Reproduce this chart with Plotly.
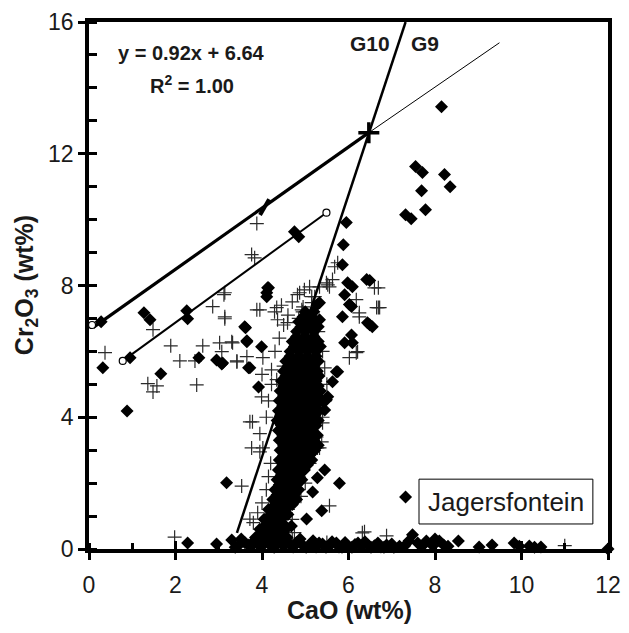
import plotly.graph_objects as go

# ---------------- data ----------------
# scattered filled-diamond analyses
dia_sc_x = [0.28, 1.27, 1.41, 2.26, 2.28, 0.32, 0.95, 1.66, 0.88, 2.54, 2.95, 3.07, 3.62, 3.65, 3.69,
            4.11, 4.13, 4.75, 4.85, 5.95, 5.88, 5.86, 6.42, 4.15, 4.11, 5.98, 6.09, 5.91, 6.02, 5.86,
            5.33, 5.28, 3.60, 6.44, 6.49, 8.15, 7.55, 7.71, 8.22, 8.35, 7.69, 7.78, 7.32, 7.45,
            6.49, 6.55, 6.07, 6.07, 5.91, 6.09, 5.72, 5.63, 5.52, 5.45, 5.45, 5.28, 5.79, 5.17,
            7.32, 5.38, 5.03, 4.68, 3.18, 3.65, 3.99, 3.09, 3.72, 3.92, 5.75, 5.49, 5.33]
dia_sc_y = [6.90, 7.17, 6.96, 7.23, 6.99, 5.50, 5.81, 5.32, 4.19, 5.81, 5.74, 5.62, 6.72, 6.32, 5.50,
            7.78, 7.93, 9.63, 9.48, 9.91, 9.24, 8.63, 8.18, 7.93, 7.66, 8.08, 7.96, 7.72, 7.42, 7.05,
            7.48, 7.42, 6.75, 6.87, 8.15, 13.43, 11.61, 11.43, 11.37, 11.00, 10.88, 10.30, 10.15, 10.03,
            6.81, 6.75, 6.50, 7.36, 6.26, 6.26, 5.38, 5.08, 4.62, 4.22, 2.40, 2.16, 2.00, 1.73,
            1.58, 1.16, 0.91, 0.70, 2.01, 6.29, 6.14, 5.65, 5.50, 4.92, 5.38, 4.53, 6.96]

# dense cluster of filled diamonds (CaO 4-5.5 wt%)
dia_cl_x = [5.00, 5.20,
            4.85, 5.05, 5.25,
            4.80, 5.00, 5.20,
            4.70, 4.90, 5.10, 5.30,
            4.65, 4.85, 5.05, 5.25,
            4.55, 4.75, 4.95, 5.15, 5.30,
            4.50, 4.70, 4.90, 5.10, 5.28,
            4.45, 4.65, 4.85, 5.05, 5.25,
            4.42, 4.60, 4.80, 5.00, 5.20, 5.35,
            4.40, 4.58, 4.78, 4.98, 5.18, 5.40,
            4.38, 4.55, 4.75, 4.95, 5.15, 5.32,
            4.35, 4.52, 4.72, 4.92, 5.12, 5.30,
            4.38, 4.55, 4.75, 4.95, 5.15,
            4.40, 4.60, 4.80, 5.00, 5.20,
            4.42, 4.62, 4.82, 5.02, 5.22,
            4.40, 4.60, 4.80, 5.00, 5.15,
            4.38, 4.58, 4.78, 4.98,
            4.35, 4.55, 4.75, 4.92,
            4.30, 4.50, 4.70, 4.85,
            4.25, 4.45, 4.65, 4.80,
            4.15, 4.35, 4.55,
            4.05, 4.25, 4.45,
            3.95, 4.15, 4.35, 4.55,
            3.85, 4.05, 4.25, 4.45,
            # interleaved rows
            4.95, 5.15,
            4.90, 5.10, 5.30,
            4.80, 5.00, 5.20,
            4.75, 4.95, 5.15, 5.35,
            4.65, 4.85, 5.05, 5.25,
            4.60, 4.80, 5.00, 5.20,
            4.55, 4.75, 4.95, 5.15, 5.32,
            4.50, 4.70, 4.90, 5.10, 5.30,
            4.50, 4.70, 4.90, 5.10, 5.28,
            4.48, 4.68, 4.88, 5.08, 5.25,
            4.45, 4.65, 4.85, 5.05, 5.22,
            4.45, 4.65, 4.85, 5.05, 5.25,
            4.50, 4.70, 4.90, 5.10, 5.28,
            4.50, 4.70, 4.90, 5.10, 5.30,
            4.50, 4.70, 4.90, 5.10,
            4.48, 4.68, 4.88, 5.05,
            4.45, 4.65, 4.85,
            4.40, 4.60, 4.80,
            4.35, 4.55, 4.75,
            4.30, 4.50, 4.70,
            4.20, 4.40, 4.60,
            4.10, 4.30, 4.50,
            4.00, 4.20, 4.40]
dia_cl_y = [7.20, 7.20,
            6.90, 6.90, 6.90,
            6.60, 6.60, 6.60,
            6.30, 6.30, 6.30, 6.30,
            6.00, 6.00, 6.00, 6.00,
            5.70, 5.70, 5.70, 5.70, 5.70,
            5.40, 5.40, 5.40, 5.40, 5.40,
            5.10, 5.10, 5.10, 5.10, 5.10,
            4.80, 4.80, 4.80, 4.80, 4.80, 4.80,
            4.50, 4.50, 4.50, 4.50, 4.50, 4.50,
            4.20, 4.20, 4.20, 4.20, 4.20, 4.20,
            3.90, 3.90, 3.90, 3.90, 3.90, 3.90,
            3.60, 3.60, 3.60, 3.60, 3.60,
            3.30, 3.30, 3.30, 3.30, 3.30,
            3.00, 3.00, 3.00, 3.00, 3.00,
            2.70, 2.70, 2.70, 2.70, 2.70,
            2.40, 2.40, 2.40, 2.40,
            2.10, 2.10, 2.10, 2.10,
            1.80, 1.80, 1.80, 1.80,
            1.50, 1.50, 1.50, 1.50,
            1.20, 1.20, 1.20,
            0.90, 0.90, 0.90,
            0.60, 0.60, 0.60, 0.60,
            0.35, 0.35, 0.35, 0.35,
            7.05, 7.05,
            6.75, 6.75, 6.75,
            6.45, 6.45, 6.45,
            6.15, 6.15, 6.15, 6.15,
            5.85, 5.85, 5.85, 5.85,
            5.55, 5.55, 5.55, 5.55,
            5.25, 5.25, 5.25, 5.25, 5.25,
            4.95, 4.95, 4.95, 4.95, 4.95,
            4.65, 4.65, 4.65, 4.65, 4.65,
            4.35, 4.35, 4.35, 4.35, 4.35,
            4.05, 4.05, 4.05, 4.05, 4.05,
            3.75, 3.75, 3.75, 3.75, 3.75,
            3.45, 3.45, 3.45, 3.45, 3.45,
            3.15, 3.15, 3.15, 3.15, 3.15,
            2.85, 2.85, 2.85, 2.85,
            2.55, 2.55, 2.55, 2.55,
            2.25, 2.25, 2.25,
            1.95, 1.95, 1.95,
            1.65, 1.65, 1.65,
            1.35, 1.35, 1.35,
            1.05, 1.05, 1.05,
            0.75, 0.75, 0.75,
            0.50, 0.50, 0.50]

# Cr-poor diamonds lying along the CaO axis
dia_bl_x = [2.28, 2.95, 3.30, 3.45, 3.60, 3.75, 3.90, 4.05, 4.20, 4.35, 4.50, 4.65, 4.80, 4.95,
            5.10, 5.25, 5.40, 5.55, 5.72, 5.85, 5.98, 6.15, 6.30, 6.45, 6.60, 6.75, 6.88, 7.05,
            7.18, 7.48, 7.60, 7.80, 7.95, 8.10, 8.30, 8.54, 9.02, 9.32, 9.83, 9.95, 10.18, 10.30,
            10.45, 12.00,
            3.38, 3.52, 3.68, 3.82, 3.98, 4.12, 4.28, 4.42, 4.58, 4.72, 4.88, 5.02, 5.18, 5.32,
            5.48, 5.62, 5.78, 5.92, 6.08, 6.22, 6.38, 6.52, 6.68, 6.82, 7.00, 7.30, 7.40, 7.70,
            8.00, 8.20]
dia_bl_y = [0.18, 0.15, 0.27, 0.10, 0.20, 0.08, 0.15, 0.22, 0.10, 0.18, 0.08, 0.14, 0.20, 0.10,
            0.12, 0.06, 0.15, 0.08, 0.18, 0.05, 0.10, 0.14, 0.08, 0.12, 0.10, 0.06, 0.12, 0.05,
            0.08, 0.43, 0.18, 0.24, 0.10, 0.24, 0.08, 0.24, 0.06, 0.12, 0.18, 0.08, 0.09, 0.05,
            0.06, 0.00,
            0.05, 0.30, 0.12, 0.25, 0.06, 0.32, 0.05, 0.28, 0.35, 0.06, 0.30, 0.05, 0.25, 0.18,
            0.05, 0.22, 0.06, 0.20, 0.05, 0.18, 0.22, 0.05, 0.18, 0.05, 0.15, 0.10, 0.25, 0.08,
            0.30, 0.12]

# plus-sign analyses
crs_x = [0.37, 3.12, 2.86, 3.14, 1.48, 1.89, 2.63, 3.02, 3.30, 3.07, 2.10, 2.45, 3.42, 3.65,
         2.49, 1.36, 1.57, 1.48, 3.72, 3.88, 3.76, 3.83, 3.14, 3.88, 4.29, 4.87, 5.10, 5.15, 4.92,
         3.14, 3.95, 4.34, 4.36, 4.59, 4.82, 4.98, 4.94, 5.33, 5.49, 5.63, 5.56, 5.75, 5.68,
         6.18, 6.25, 6.69, 6.69, 6.72, 6.25, 6.18, 6.02, 5.52, 5.22, 6.60, 6.65, 5.15,
         3.32, 3.42, 4.02, 4.22, 4.34, 3.99, 3.78, 3.76, 4.02, 3.95, 4.10, 4.15, 4.22, 4.00,
         4.30, 4.40, 4.50, 4.60, 4.45, 4.70, 4.85, 5.30, 5.40, 5.45, 5.50, 5.45, 5.40, 5.38,
         5.33, 5.26, 5.40, 4.20, 4.15, 4.10, 4.00, 3.90, 3.80, 3.72, 3.53, 4.60, 4.70, 4.75,
         4.90, 5.00, 5.10, 5.56, 6.32, 3.95, 5.28, 6.21,
         4.50, 4.70, 4.90, 5.10, 4.60, 4.80, 5.00, 4.50, 4.70, 4.90, 4.60, 4.80, 4.50, 4.70,
         4.40, 5.00, 4.80, 5.00, 5.20, 4.95,
         1.98, 6.37, 6.88, 3.50, 4.20, 4.80, 5.50, 5.90, 4.70, 11.0]
crs_y = [5.96, 7.72, 7.36, 6.99, 6.66, 6.17, 6.17, 6.26, 6.29, 5.99, 5.71, 5.71, 5.71, 5.84,
         4.98, 5.02, 4.95, 4.77, 3.86, 9.88, 8.94, 8.84, 7.78, 7.26, 7.20, 7.78, 7.96, 7.66, 7.26,
         7.05, 7.26, 7.33, 6.96, 6.87, 7.72, 7.87, 7.20, 7.96, 8.08, 8.18, 7.96, 8.69, 8.57,
         7.57, 7.17, 7.93, 7.33, 7.33, 7.05, 5.96, 5.81, 8.02, 7.66, 7.93, 7.33, 7.48,
         6.26, 5.68, 5.81, 5.44, 5.14, 4.62, 3.86, 3.07, 3.07, 3.50, 4.00, 4.50, 5.00, 5.30,
         6.00, 6.40, 6.80, 7.10, 7.40, 7.50, 7.00, 6.60, 6.00, 5.50, 5.00, 4.50, 4.00, 3.25,
         3.07, 3.40, 3.83, 2.60, 2.20, 1.80, 1.40, 1.10, 0.80, 0.91, 1.91, 1.20, 0.90, 0.50,
         1.60, 2.00, 2.60, 1.31, 0.49, 2.95, 3.07, 5.99,
         5.55, 5.25, 4.95, 4.65, 4.35, 4.05, 3.75, 3.45, 3.15, 2.85, 2.55, 2.25, 1.95, 1.65,
         1.35, 5.85, 6.15, 6.45, 6.75, 7.35,
         0.36, 0.52, 0.40, 0.10, 0.20, 0.15, 0.20, 0.10, 0.30, 0.10]

# reference lines
reg_thick_x = [0.10, 6.47]          # y = 0.92x + 6.64
reg_thick_y = [6.73, 12.64]
reg_thin_x = [6.47, 9.49]
reg_thin_y = [12.64, 15.37]
low_x = [0.78, 5.49]
low_y = [5.71, 10.21]
g10_x = [3.42, 7.32]                # G10 / G9 divide
g10_y = [0.49, 16.0]
open_pt_x = [0.07, 0.78, 5.49]
open_pt_y = [6.80, 5.71, 10.21]
bar_pt_x = [4.06]
bar_pt_y = [10.38]
x_pt_x = [6.47]
x_pt_y = [12.64]

x_ticks = [0, 2, 4, 6, 8, 10, 12]
y_ticks = [0, 4, 8, 12, 16]

FONT = "Liberation Sans, Arial, sans-serif"

fig = go.Figure()

fig.add_trace(go.Scatter(x=crs_x, y=crs_y, mode="markers", cliponaxis=False,
                         marker=dict(symbol="cross-thin", size=10, line=dict(width=1.2, color="#2a2a2a")),
                         showlegend=False))
for xs, ys in [(dia_sc_x, dia_sc_y), (dia_cl_x, dia_cl_y), (dia_bl_x, dia_bl_y)]:
    fig.add_trace(go.Scatter(x=xs, y=ys, mode="markers", cliponaxis=False,
                             marker=dict(symbol="diamond", size=10, color="black", line=dict(width=0)),
                             showlegend=False))

fig.add_trace(go.Scatter(x=reg_thick_x, y=reg_thick_y, mode="lines", line=dict(color="black", width=3.2), showlegend=False))
fig.add_trace(go.Scatter(x=reg_thin_x, y=reg_thin_y, mode="lines", line=dict(color="black", width=1), showlegend=False))
fig.add_trace(go.Scatter(x=low_x, y=low_y, mode="lines", line=dict(color="black", width=2), showlegend=False))
fig.add_trace(go.Scatter(x=g10_x, y=g10_y, mode="lines", line=dict(color="black", width=2.5), showlegend=False))
fig.add_trace(go.Scatter(x=open_pt_x, y=open_pt_y, mode="markers",
                         marker=dict(symbol="circle", size=7, color="white", line=dict(width=1.2, color="black")),
                         showlegend=False))
fig.add_trace(go.Scatter(x=bar_pt_x, y=bar_pt_y, mode="markers",
                         marker=dict(symbol="line-ns", size=13, angle=30, line=dict(width=4, color="black")),
                         showlegend=False))
fig.add_trace(go.Scatter(x=x_pt_x, y=x_pt_y, mode="markers",
                         marker=dict(symbol="cross-thin", size=15, line=dict(width=3.5, color="black")),
                         showlegend=False))
# helper trace for the overlay axes carrying the inner half of the major ticks
fig.add_trace(go.Scatter(x=[0], y=[0], xaxis="x2", yaxis="y2", mode="markers",
                         marker=dict(size=1, opacity=0), showlegend=False, hoverinfo="skip"))

axis_common = dict(showgrid=False, zeroline=False, showline=True, linecolor="black", linewidth=3.5,
                   mirror=True, ticks="outside", ticklen=7, tickwidth=3, tickcolor="black",
                   automargin=False, tickfont=dict(family=FONT, size=23, color="#1a1a1a"))

# the page body adds an 8 px margin round the figure, so the figure is 16 px smaller
fig.update_layout(
    width=613, height=617,
    margin=dict(l=81, r=13, t=14, b=76),
    paper_bgcolor="white", plot_bgcolor="white",
    xaxis=dict(range=[0, 12], tickvals=x_ticks, ticklabelstandoff=6,
               minor=dict(dtick=1, ticks="inside", ticklen=6, tickwidth=3, tickcolor="black"),
               **axis_common),
    yaxis=dict(range=[0, 16], tickvals=y_ticks, ticklabelstandoff=0,
               minor=dict(dtick=1, ticks="inside", ticklen=8, tickwidth=3, tickcolor="black"),
               **axis_common),
    xaxis2=dict(range=[0, 12], overlaying="x", anchor="y", side="bottom", tickvals=x_ticks,
                ticks="inside", ticklen=8, tickwidth=3, tickcolor="black", showticklabels=False,
                showgrid=False, zeroline=False, showline=False),
    yaxis2=dict(range=[0, 16], overlaying="y", anchor="x", side="left", tickvals=y_ticks,
                ticks="inside", ticklen=8, tickwidth=3, tickcolor="black", showticklabels=False,
                showgrid=False, zeroline=False, showline=False),
    shapes=[dict(type="rect", xref="x", yref="y", x0=7.63, x1=11.65, y0=0.76, y1=2.12,
                 line=dict(color="black", width=1), fillcolor="white", layer="above")],
    annotations=[
        dict(text="<b>y = 0.92x + 6.64</b>", x=2.38, y=15.06, xref="x", yref="y", showarrow=False,
             font=dict(family=FONT, size=20, color="#1a1a1a")),
        dict(text="<b>R<sup>2</sup> = 1.00</b>", x=2.38, y=14.09, xref="x", yref="y", showarrow=False,
             font=dict(family=FONT, size=20, color="#1a1a1a")),
        dict(text="<b>G10</b>", x=6.5, y=15.36, xref="x", yref="y", showarrow=False,
             font=dict(family=FONT, size=21, color="#1a1a1a")),
        dict(text="<b>G9</b>", x=7.77, y=15.36, xref="x", yref="y", showarrow=False,
             font=dict(family=FONT, size=21, color="#1a1a1a")),
        dict(text="Jagersfontein", x=9.64, y=1.44, xref="x", yref="y", showarrow=False,
             font=dict(family=FONT, size=26, color="#1a1a1a")),
        dict(text="<b>CaO (wt%)</b>", x=0.501, y=-0.116, xref="paper", yref="paper", showarrow=False,
             xanchor="center", yanchor="middle", font=dict(family=FONT, size=25, color="#1a1a1a")),
        dict(text="<b>Cr<sub>2</sub>O<sub>3</sub> (wt%)</b>", x=-0.121, y=0.501, xref="paper", yref="paper",
             showarrow=False, textangle=-90, xanchor="center", yanchor="middle",
             font=dict(family=FONT, size=25, color="#1a1a1a")),
    ],
)

fig.write_html("out.html")
